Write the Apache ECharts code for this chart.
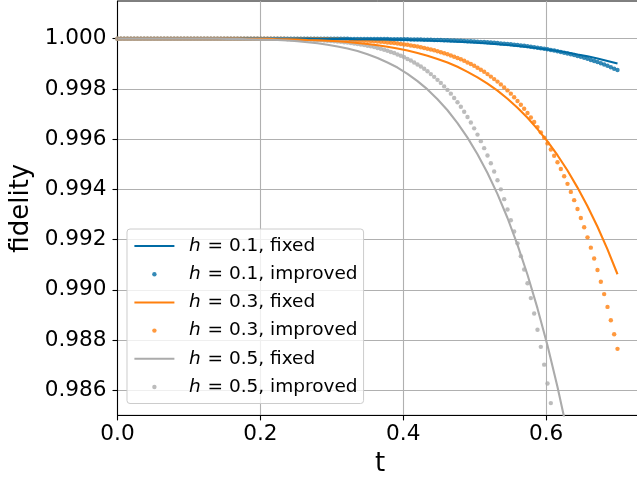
<!DOCTYPE html>
<html>
<head>
<meta charset="utf-8">
<script src="https://cdn.jsdelivr.net/npm/echarts@6.0.0/dist/echarts.min.js"></script>
<style>
html,body{margin:0;padding:0;background:#fff;}
#chart{width:637px;height:478px;}
</style>
</head>
<body>
<div id="chart"></div>
<script>
// time grid of the "improved" runs (dots)
var tImproved = [
0,0.00467,0.00933,0.014,0.01867,0.02333,0.028,0.03267,0.03733,0.042,
0.04667,0.05133,0.056,0.06067,0.06533,0.07,0.07467,0.07933,0.084,0.08867,
0.09333,0.098,0.10267,0.10733,0.112,0.11667,0.12133,0.126,0.13067,0.13533,
0.14,0.14467,0.14933,0.154,0.15867,0.16333,0.168,0.17267,0.17733,0.182,
0.18667,0.19133,0.196,0.20067,0.20533,0.21,0.21467,0.21933,0.224,0.22867,
0.23333,0.238,0.24267,0.24733,0.252,0.25667,0.26133,0.266,0.27067,0.27533,
0.28,0.28467,0.28933,0.294,0.29867,0.30333,0.308,0.31267,0.31733,0.322,
0.32667,0.33133,0.336,0.34067,0.34533,0.35,0.35467,0.35933,0.364,0.36867,
0.37333,0.378,0.38267,0.38733,0.392,0.39667,0.40133,0.406,0.41067,0.41533,
0.42,0.42467,0.42933,0.434,0.43867,0.44333,0.448,0.45267,0.45733,0.462,
0.46667,0.47133,0.476,0.48067,0.48533,0.49,0.49467,0.49933,0.504,0.50867,
0.51333,0.518,0.52267,0.52733,0.532,0.53667,0.54133,0.546,0.55067,0.55533,
0.56,0.56467,0.56933,0.574,0.57867,0.58333,0.588,0.59267,0.59733,0.602,
0.60667,0.61133,0.616,0.62067,0.62533,0.63,0.63467,0.63933,0.644,0.64867,
0.65333,0.658,0.66267,0.66733,0.672,0.67667,0.68133,0.686,0.69067,0.69533,
0.7];
// time grid of the "fixed" runs (lines)
var tFixed = [
0,0.014,0.028,0.042,0.056,0.07,0.084,0.098,0.112,0.126,
0.14,0.154,0.168,0.182,0.196,0.21,0.224,0.238,0.252,0.266,
0.28,0.294,0.308,0.322,0.336,0.35,0.364,0.378,0.392,0.406,
0.42,0.434,0.448,0.462,0.476,0.49,0.504,0.518,0.532,0.546,
0.56,0.574,0.588,0.602,0.616,0.63,0.644,0.658,0.672,0.686,
0.7];

var fixed01 = [
1,1,1,1,1,1,1,1,1,1,
1,1,1,1,1,1,1,1,1,1,
0.99999,0.99999,0.99999,0.99999,0.99998,0.99998,0.99997,0.99997,0.99996,0.99995,
0.99994,0.99993,0.99991,0.9999,0.99988,0.99986,0.99984,0.99981,0.99978,0.99975,
0.99971,0.99967,0.99962,0.99957,0.99951,0.99945,0.99937,0.9993,0.99921,0.99911,
0.99901];
var improved01 = [
1,1,1,1,1,1,1,1,1,1,
1,1,1,1,1,1,1,1,1,1,
1,1,1,1,1,1,1,1,1,1,
1,1,1,1,1,1,1,1,1,1,
1,1,1,1,1,1,1,1,1,1,
1,1,1,1,1,1,1,1,1,1,
1,1,1,1,1,1,1,1,1,1,
0.99999,0.99999,0.99999,0.99999,0.99999,0.99999,0.99999,0.99999,0.99999,0.99999,
0.99999,0.99999,0.99998,0.99998,0.99998,0.99998,0.99998,0.99998,0.99997,0.99997,
0.99997,0.99997,0.99996,0.99996,0.99996,0.99995,0.99995,0.99995,0.99994,0.99994,
0.99993,0.99993,0.99992,0.99992,0.99991,0.9999,0.9999,0.99989,0.99988,0.99987,
0.99987,0.99986,0.99985,0.99984,0.99983,0.99981,0.9998,0.99979,0.99978,0.99976,
0.99975,0.99973,0.99972,0.9997,0.99968,0.99966,0.99964,0.99962,0.9996,0.99958,
0.99955,0.99953,0.9995,0.99947,0.99944,0.99941,0.99938,0.99935,0.99931,0.99928,
0.99924,0.9992,0.99915,0.99911,0.99907,0.99902,0.99897,0.99892,0.99886,0.9988,
0.99875];

var fixed03 = [
1,1,1,1,1,1,1,1,1,1,
1,1,1,0.99999,0.99999,0.99999,0.99998,0.99998,0.99997,0.99995,
0.99994,0.99992,0.9999,0.99987,0.99983,0.99979,0.99974,0.99968,0.99961,0.99953,
0.99943,0.99932,0.99919,0.99905,0.99888,0.99868,0.99846,0.99821,0.99793,0.99761,
0.99725,0.99685,0.9964,0.99591,0.99536,0.99475,0.99407,0.99333,0.99251,0.99161,
0.99062];
var improved03 = [
1,1,1,1,1,1,1,1,1,1,
1,1,1,1,1,1,1,1,1,1,
1,1,1,1,1,1,1,1,1,1,
1,1,1,1,1,1,1,1,1,1,
1,1,1,1,1,1,1,1,1,1,
1,0.99999,0.99999,0.99999,0.99999,0.99999,0.99999,0.99999,0.99999,0.99999,
0.99998,0.99998,0.99998,0.99998,0.99997,0.99997,0.99997,0.99996,0.99996,0.99995,
0.99995,0.99994,0.99994,0.99993,0.99992,0.99992,0.99991,0.9999,0.99989,0.99988,
0.99987,0.99985,0.99984,0.99983,0.99981,0.99979,0.99977,0.99976,0.99973,0.99971,
0.99969,0.99966,0.99963,0.9996,0.99957,0.99954,0.9995,0.99946,0.99942,0.99938,
0.99933,0.99928,0.99923,0.99918,0.99912,0.99905,0.99899,0.99892,0.99884,0.99876,
0.99868,0.99859,0.99849,0.99839,0.99829,0.99818,0.99806,0.99794,0.99781,0.99767,
0.99752,0.99737,0.99721,0.99704,0.99686,0.99668,0.99648,0.99627,0.99606,0.99583,
0.99559,0.99534,0.99508,0.99481,0.99452,0.99422,0.9939,0.99357,0.99322,0.99286,
0.99249,0.99209,0.99168,0.99125,0.99079,0.99032,0.98983,0.98932,0.98879,0.98823,
0.98765];

var fixed05 = [
1,1,1,1,1,1,1,1,1,1,
1,0.99999,0.99999,0.99998,0.99997,0.99996,0.99995,0.99993,0.9999,0.99986,
0.99982,0.99976,0.99969,0.99961,0.99951,0.99938,0.99923,0.99905,0.99885,0.9986,
0.99831,0.99798,0.99759,0.99715,0.99664,0.99606,0.9954,0.99465,0.99381,0.99286,
0.99179,0.9906,0.98926,0.98778,0.98613,0.98431,0.98229,0.98007,0.97762,0.97494,
0.97199];
var improved05 = [
1,1,1,1,1,1,1,1,1,1,
1,1,1,1,1,1,1,1,1,1,
1,1,1,1,1,1,1,1,1,1,
1,1,1,1,1,1,1,1,1,1,
1,1,1,0.99999,0.99999,0.99999,0.99999,0.99999,0.99999,0.99999,
0.99999,0.99998,0.99998,0.99998,0.99997,0.99997,0.99997,0.99996,0.99996,0.99995,
0.99994,0.99994,0.99993,0.99992,0.99991,0.9999,0.99989,0.99988,0.99986,0.99985,
0.99983,0.99981,0.99979,0.99977,0.99975,0.99972,0.9997,0.99967,0.99963,0.9996,
0.99956,0.99952,0.99947,0.99943,0.99937,0.99932,0.99926,0.99919,0.99913,0.99905,
0.99897,0.99889,0.9988,0.9987,0.99859,0.99848,0.99836,0.99824,0.9981,0.99796,
0.99781,0.99764,0.99747,0.99729,0.99709,0.99688,0.99666,0.99643,0.99618,0.99592,
0.99564,0.99535,0.99504,0.99471,0.99436,0.994,0.99361,0.9932,0.99277,0.99232,
0.99185,0.99134,0.99081,0.99026,0.98967,0.98906,0.98841,0.98773,0.98702,0.98627,
0.98549,0.98467,0.9838,0.9829,0.98195,0.98096,0.97992,0.97883,0.97769,0.9765,
0.97526,0.97396,0.9726,0.97118,0.96969,0.96815,0.96653,0.96484,0.96308,0.96125,
0.95934];

var xTicks = [0, 0.2, 0.4, 0.6];
var yTicks = [0.986, 0.988, 0.990, 0.992, 0.994, 0.996, 0.998, 1.000];

var font = 'DejaVu Sans';

function pairs(ts, vs) {
	return ts.map(function (t, i) { return [t, vs[i]]; });
}
function lineSeries(name, color, ts, vs) {
	return {
		name: name, type: 'line', data: pairs(ts, vs),
		symbol: 'none', showSymbol: false, clip: true,
		lineStyle: { color: color, width: 2.1 },
		itemStyle: { color: color }
	};
}
function dotSeries(name, color, ts, vs) {
	return {
		name: name, type: 'scatter', data: pairs(ts, vs),
		symbol: 'circle', symbolSize: 4.4, clip: true,
		itemStyle: { color: color }
	};
}
// legend entry; fixed runs show only the line, no marker
function legendItem(name, lineOnly) {
	var item = { name: name };
	if (lineOnly) {
		item.itemStyle = { opacity: 0 };
	}
	return item;
}

var myChart = echarts.init(document.getElementById('chart'), null, { renderer: 'canvas' });
var option = {
	animation: false,
	backgroundColor: '#fff',
	grid: {
		left: 117.5, top: 1, width: 525, height: 414.4,
		show: true, borderColor: '#000', borderWidth: 1,
		containLabel: false, outerBoundsMode: 'none'
	},
	legend: {
		orient: 'vertical', left: 127, top: 229,
		itemWidth: 40, itemHeight: 4.4, itemGap: 8.2,
		padding: [7, 6, 6.5, 6.4],
		backgroundColor: 'rgba(255,255,255,0.8)',
		borderColor: '#cccccc', borderWidth: 1, borderRadius: 3,
		data: [
			legendItem('h = 0.1, fixed', true),
			legendItem('h = 0.1, improved', false),
			legendItem('h = 0.3, fixed', true),
			legendItem('h = 0.3, improved', false),
			legendItem('h = 0.5, fixed', true),
			legendItem('h = 0.5, improved', false)
		],
		formatter: function (name) {
			return '{i|h}{n|' + name.slice(1) + '}';
		},
		textStyle: {
			color: '#000', fontFamily: font, fontSize: 18.5, lineHeight: 20,
			rich: {
				i: { fontFamily: font, fontSize: 18.5, fontStyle: 'italic', lineHeight: 20, padding: [0, 1, 0, 9.5], color: '#000' },
				n: { fontFamily: font, fontSize: 18.5, lineHeight: 20, color: '#000' }
			}
		}
	},
	xAxis: {
		type: 'value', min: 0, max: 0.735,
		name: 't', nameLocation: 'middle', nameGap: 36,
		nameTextStyle: { fontFamily: font, fontSize: 26, color: '#000' },
		axisLine: { show: true, onZero: false, lineStyle: { color: '#000', width: 1.1 } },
		axisTick: { show: true, length: 5, customValues: xTicks, lineStyle: { color: '#000', width: 1.1 } },
		axisLabel: {
			customValues: xTicks, margin: 8, color: '#000', fontFamily: font, fontSize: 21.6,
			formatter: function (v) { return v.toFixed(1); }
		},
		splitLine: { show: true, lineStyle: { color: '#b0b0b0', width: 1.1 } }
	},
	yAxis: {
		type: 'value', min: 0.985, max: 1.0015,
		name: 'fidelity', nameLocation: 'middle', nameGap: 74, nameRotate: 90,
		nameTextStyle: { fontFamily: font, fontSize: 26, color: '#000' },
		axisLine: { show: true, onZero: false, lineStyle: { color: '#000', width: 1.1 } },
		axisTick: { show: true, length: 5, customValues: yTicks, lineStyle: { color: '#000', width: 1.1 } },
		axisLabel: {
			customValues: yTicks, margin: 11, color: '#000', fontFamily: font, fontSize: 21.6,
			formatter: function (v) { return v.toFixed(3); }
		},
		splitLine: { show: true, lineStyle: { color: '#b0b0b0', width: 1.1 } }
	},
	series: [
		lineSeries('h = 0.1, fixed', '#006BA4', tFixed, fixed01),
		dotSeries('h = 0.1, improved', '#006BA4', tImproved, improved01),
		lineSeries('h = 0.3, fixed', '#FF800E', tFixed, fixed03),
		dotSeries('h = 0.3, improved', '#FF800E', tImproved, improved03),
		lineSeries('h = 0.5, fixed', '#ABABAB', tFixed, fixed05),
		dotSeries('h = 0.5, improved', '#ABABAB', tImproved, improved05)
	]
};
myChart.setOption(option);
</script>
</body>
</html>
